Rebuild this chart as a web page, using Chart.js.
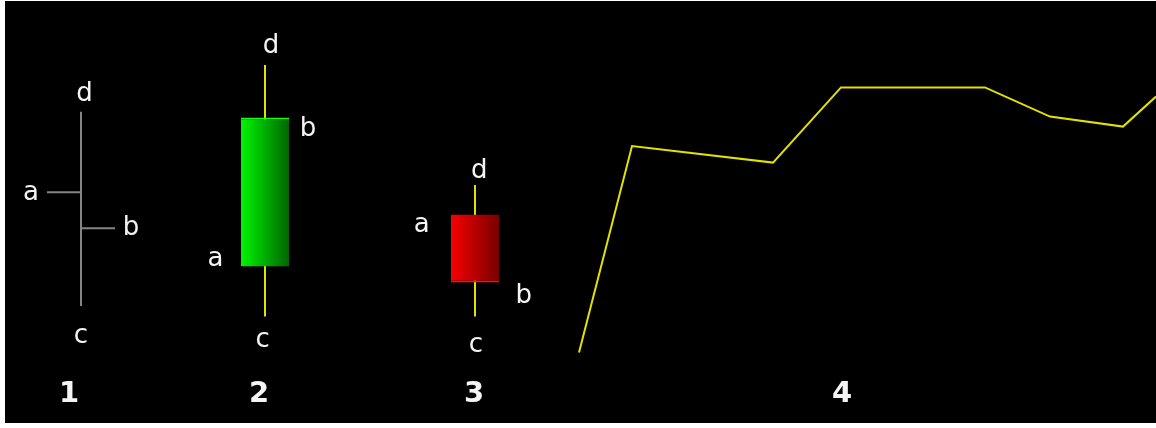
<!DOCTYPE html>
<html>
<head>
<meta charset="utf-8">
<script src="https://cdn.jsdelivr.net/npm/chart.js@4"></script>
<style>
  html, body { margin: 0; background: #fff; }
  #wrap { position: absolute; left: 5px; top: 1px; width: 1151px; height: 422px; background: #000; }
</style>
</head>
<body>
<div id="wrap"><canvas id="chart"></canvas></div>
<script>
"use strict";

// figures 1-3: one OHLC bar, one up candle, one down candle
const slots  = [7.6, 26.0, 47.0];
const opens  = [44.7, 26.1, 39.1];
const highs  = [64.8, 76.5, 46.5];
const lows   = [16.25, 13.6, 13.6];
const closes = [35.7, 63.4, 22.1];

// figure 4: close-only line
const lineX = [57.4, 62.7, 76.8, 83.6, 98.0, 104.5, 111.8, 115.1];
const lineY = [4.6, 56.25, 52.1, 70.9, 70.9, 63.6, 61.1, 68.6];

// captions under the figures
const figLabels = ['1', '2', '3', '4'];
const figPositions = [6.4, 25.4, 46.9, 83.7];

const ohlcTick = 3.4; // length of open/close ticks, in x units
const WHITE = '#f4f4f4';
const YELLOW = '#e2e200';
const GREY = '#858585';

function bodyFill(ctx) {
    const chart = ctx.chart;
    const raw = ctx.raw;
    if (!raw || !chart.chartArea) return 'transparent';
    const cx = chart.scales.x.getPixelForValue(raw.x);
    const up = raw.y[1] > raw.y[0];
    const g = chart.ctx.createLinearGradient(cx - 24, 0, cx + 24, 0);
    g.addColorStop(0, up ? '#00f400' : '#f80000');
    g.addColorStop(1, up ? '#006600' : '#780000');
    return g;
}

function bodyBorder(ctx) {
    const raw = ctx.raw;
    if (!raw) return 0;
    return raw.y[1] > raw.y[0]
        ? { top: 2, bottom: 0, left: 0, right: 0 }
        : { top: 0, bottom: 2, left: 0, right: 0 };
}

// letters a/b/c/d = open/close/low/high, drawn next to each mark
const letterPlugin = {
    id: 'ohlcLetters',
    afterDatasetsDraw(chart, args, opts) {
        const { ctx, scales: { x, y } } = chart;
        const values = { a: opens, b: closes, c: lows, d: highs };
        ctx.save();
        ctx.font = opts.font;
        ctx.fillStyle = opts.color;
        ctx.textAlign = 'center';
        ctx.textBaseline = 'alphabetic';
        opts.spots.forEach(([fig, letter, dx, dy]) => {
            const px = x.getPixelForValue(slots[fig]) + dx;
            const py = y.getPixelForValue(values[letter][fig]) + dy;
            ctx.fillText(letter, px, py);
        });
        ctx.restore();
    }
};

const candleIdx = [1, 2];

new Chart(document.getElementById('chart'), {
    type: 'line',
    data: {
        datasets: [
            {
                type: 'bar',
                data: candleIdx.map(i => ({ x: slots[i], y: [opens[i], closes[i]] })),
                barThickness: 48,
                grouped: false,
                inflateAmount: 0,
                backgroundColor: bodyFill,
                borderColor: ctx => (ctx.raw && ctx.raw.y[1] > ctx.raw.y[0]) ? '#12ff12' : '#ff1010',
                borderWidth: bodyBorder,
                borderSkipped: false
            },
            {
                type: 'bar',
                data: candleIdx.map(i => ({ x: slots[i], y: [lows[i], highs[i]] })),
                barThickness: 2,
                grouped: false,
                inflateAmount: 0,
                backgroundColor: YELLOW
            },
            {
                type: 'bar',
                data: [{ x: slots[0], y: [lows[0], highs[0]] }],
                barThickness: 2,
                grouped: false,
                inflateAmount: 0,
                backgroundColor: GREY
            },
            {
                data: [{ x: slots[0] - ohlcTick, y: opens[0] }, { x: slots[0], y: opens[0] }],
                borderColor: GREY,
                borderWidth: 2,
                pointRadius: 0
            },
            {
                data: [{ x: slots[0], y: closes[0] }, { x: slots[0] + ohlcTick, y: closes[0] }],
                borderColor: GREY,
                borderWidth: 2,
                pointRadius: 0
            },
            {
                data: lineX.map((x, i) => ({ x: x, y: lineY[i] })),
                borderColor: YELLOW,
                borderWidth: 2,
                pointRadius: 0,
                tension: 0
            }
        ]
    },
    options: {
        responsive: true,
        maintainAspectRatio: false,
        animation: false,
        events: [],
        layout: { padding: 0 },
        plugins: {
            legend: { display: false },
            tooltip: { enabled: false },
            ohlcLetters: {
                font: '26px "DejaVu Sans"',
                color: WHITE,
                spots: [
                    [0, 'd', 3.5, -10.7], [0, 'a', -50, 7.7], [0, 'b', 50, 6.7], [0, 'c', 0, 37.3],
                    [1, 'd', 6, -11.7], [1, 'b', 43, 18.4], [1, 'a', -49.5, -1], [1, 'c', -2.3, 30],
                    [2, 'd', 4.2, -6.7], [2, 'a', -53.3, 17], [2, 'b', 48.7, 20], [2, 'c', 0.8, 35]
                ]
            }
        },
        scales: {
            x: {
                type: 'linear',
                min: 0,
                max: 115.1,
                offset: false,
                grid: { display: false, drawTicks: false },
                border: { display: false },
                ticks: {
                    color: WHITE,
                    font: { family: 'DejaVu Sans', size: 29, weight: 'bold' },
                    padding: 6,
                    autoSkip: false,
                    maxRotation: 0,
                    callback: (v, i) => figLabels[i]
                },
                afterBuildTicks: scale => {
                    scale.ticks = figPositions.map(v => ({ value: v }));
                },
                afterFit: scale => {
                    scale.height = 52;
                }
            },
            y: {
                type: 'linear',
                display: false,
                min: 0,
                max: 92.5
            }
        }
    },
    plugins: [letterPlugin]
});
</script>
</body>
</html>
